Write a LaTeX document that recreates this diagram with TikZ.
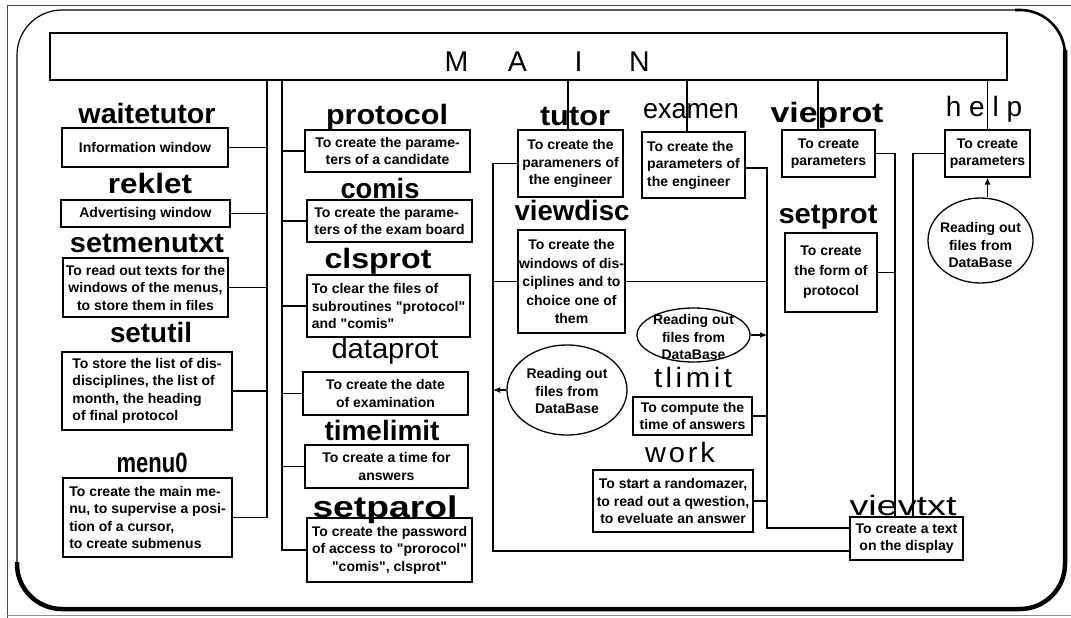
\documentclass[tikz,border=0pt]{standalone}
\usepackage{fontspec}
\setmainfont{Liberation Sans}[Ligatures=TeXOff]
\usepackage{graphicx}
\usetikzlibrary{arrows.meta,shapes.geometric}
\newcommand{\ttl}[2]{\resizebox{#1pt}{\height}{#2}}
\begin{document}
\begin{tikzpicture}[x=1pt,y=-1pt,
  box/.style={draw, line width=1.3pt, inner sep=1pt, align=center,
    font=\fontsize{14}{17.5}\selectfont\bfseries},
  title/.style={anchor=base, inner sep=0pt, font=\fontsize{28}{30}\selectfont\bfseries},
  titlereg/.style={anchor=base, inner sep=0pt, font=\fontsize{28}{30}\selectfont},
  wire/.style={line width=1.1pt},
  arr/.style={line width=1.1pt, -{Latex[length=7pt,width=6pt]}},
  dbell/.style={draw, ellipse, line width=1.3pt, inner sep=0pt},
  dbtxt/.style={inner sep=0pt, align=center, font=\fontsize{14}{17.5}\selectfont\bfseries}
]
\useasboundingbox (0,0) rectangle (1071,618);
% outer thin border
\draw[line width=0.8pt, black!70] (1071,5) -- (7,5) -- (7,618);
\draw[line width=0.6pt, black!45] (7,615.5) -- (1071,615.5);
% rounded frame
\draw[line width=1.2pt, rounded corners=45pt] (17,10) rectangle (1065,609);
\draw[line width=2.6pt, rounded corners=45pt] (1015,10) -- (1065,10) -- (1065,58);
\draw[line width=4.5pt, rounded corners=45pt] (1065,50) -- (1065,609) -- (17,609) -- (17,562);

% MAIN
\node[draw, line width=1.3pt, minimum width=957pt, minimum height=47pt, inner sep=0pt] (main) at (528.5,56.5) {};
\node[anchor=base, inner sep=0pt, font=\fontsize{28.5}{30}\selectfont] (mainlbl) at (548,72)
  {\makebox[61pt]{M}\makebox[61pt]{A}\makebox[61pt]{I}\makebox[61pt]{N}};

% left column
\node[title] (twait) at (147,123) {\ttl{137}{waitetutor}};
\node[box, minimum width=166pt, minimum height=39pt] (wbox) at (145,147.5) {Information window};
\node[title] (trek) at (150,193) {\ttl{84}{reklet}};
\node[box, minimum width=169pt, minimum height=27pt] (rbox) at (145.5,213.5) {Advertising window};
\node[title] (tsmt) at (147,252) {\ttl{154}{setmenutxt}};
\node[box, minimum width=165pt, minimum height=59pt] (smbox) at (145.5,287.5)
  {To read out texts for the\\windows of the menus,\\to store them in files};
\node[title] (tsu) at (151,342) {\ttl{82}{setutil}};
\node[box, minimum width=170pt, minimum height=78pt, align=left] (subox) at (147,391)
  {To store the list of dis-\\disciplines, the list of\\month, the heading\\of final protocol};
\node[title] (tm0) at (152,472) {\ttl{71}{menu0}};
\node[box, minimum width=169pt, minimum height=79pt, align=left] (m0box) at (147.5,517.5)
  {To create the main me-\\nu, to supervise a posi-\\tion of a cursor,\\to create submenus};

% second column
\node[title] (tpro) at (387,124) {\ttl{122}{protocol}};
\node[box, minimum width=165pt, minimum height=42pt] (pbox) at (387.5,151)
  {To create the parame-\\ters of a candidate};
\node[title] (tcom) at (380,198) {\ttl{79}{comis}};
\node[box, minimum width=165pt, minimum height=42pt, align=left] (cbox) at (389.5,221)
  {To create the parame-\\ters of the exam board};
\node[title] (tcls) at (378,268) {\ttl{107}{clsprot}};
\node[box, minimum width=163pt, minimum height=62pt, align=left] (clbox) at (388.5,306)
  {To clear the files of\\subroutines "protocol"\\and "comis"};
\node[titlereg] (tdp) at (385,358) {\ttl{107}{dataprot}};
\node[box, minimum width=165pt, minimum height=43pt] (dpbox) at (385.5,393.5)
  {To create the date\\of examination};
\node[title] (ttl) at (382,440) {\ttl{115}{timelimit}};
\node[box, minimum width=163pt, minimum height=43pt] (tlbox) at (386.5,466.5)
  {To create a time for\\answers};
\node[title, font=\fontsize{30}{32}\selectfont\bfseries] (tsp) at (385,517) {\ttl{145}{setparol}};
\node[box, minimum width=165pt, minimum height=64pt] (spbox) at (389.5,550)
  {To create the password\\of access to "prorocol"\\"comis", clsprot"};

% middle
\node[title] (ttut) at (575,125) {\ttl{70}{tutor}};
\node[box, minimum width=105pt, minimum height=67pt] (tbox) at (570.5,163.5)
  {To create the\\parameners of\\the engineer};
\node[titlereg] (tex) at (691,118) {\ttl{96}{examen}};
\node[box, minimum width=103pt, minimum height=66pt, align=left] (exbox) at (693.5,165)
  {To create the\\parameters of\\the engineer};
\node[title] (tvd) at (572,220) {\ttl{115}{viewdisc}};
\node[box, minimum width=107pt, minimum height=103pt, font=\fontsize{14}{18.5}\selectfont\bfseries] (vdbox) at (571.5,281.5)
  {To create the\\windows of dis-\\ciplines and to\\choice one of\\them};
\node[dbell, minimum width=113pt, minimum height=54pt] (db1) at (693.5,335) {};
\node[dbtxt] (db1t) at (693.5,337) {Reading out\\files from\\DataBase};
\node[dbell, minimum width=120pt, minimum height=90pt] (db2) at (567,390) {};
\node[dbtxt] (db2t) at (567,391) {Reading out\\files from\\DataBase};
\node[titlereg] (ttlim) at (693,387) {\ttl{78}{\addfontfeature{LetterSpace=12}tlimit}};
\node[box, minimum width=119pt, minimum height=38pt] (tmbox) at (692.5,416)
  {To compute the\\time of answers};
\node[titlereg] (twork) at (680,462) {\ttl{70}{\addfontfeature{LetterSpace=10}work}};
\node[box, minimum width=160pt, minimum height=62pt] (wkbox) at (673,501)
  {To start a randomazer,\\to read out a qwestion,\\to eveluate an answer};

% right
\node[title] (tvp) at (827,122) {\ttl{113}{vieprot}};
\node[box, minimum width=93pt, minimum height=47pt] (vpbox) at (828.5,153.5)
  {To create\\parameters};
\node[title] (tsetp) at (828,223) {\ttl{99}{setprot}};
\node[box, minimum width=92pt, minimum height=79pt, font=\fontsize{14}{20}\selectfont\bfseries] (stbox) at (831,272.5)
  {To create\\the form of\\protocol};
\node[titlereg] (thelp) at (984,117) {h e l p};
\node[box, minimum width=85pt, minimum height=47pt] (hbox) at (987.5,153.5)
  {To create\\parameters};
\node[dbell, minimum width=105pt, minimum height=85pt] (db3) at (980.5,240.5) {};
\node[dbtxt] (db3t) at (980.5,245) {Reading out\\files from\\DataBase};
\node[titlereg] (tvt) at (903,515) {\ttl{107}{vievtxt}};
\node[box, minimum width=113pt, minimum height=43pt] (vtbox) at (906.5,538.5)
  {To create a text\\on the display};

% bus coordinates
\coordinate (bL) at (267,0);
\coordinate (bR) at (282,0);
\coordinate (bM1) at (493,0);
\coordinate (bM2) at (767,0);
\coordinate (bV) at (895,0);
\coordinate (bH) at (913,0);

% left bus
\draw[wire] (main.south -| bL) |- (m0box.east);
\foreach \n in {wbox,rbox,smbox,subox} \draw[wire] (\n.east) -- (\n.east -| bL);
% right bus
\draw[wire] (main.south -| bR) |- (spbox.west);
\foreach \n in {pbox,cbox,clbox,dpbox,tlbox} \draw[wire] (\n.west) -- (\n.west -| bR);

% tutor group
\draw[wire] ([xshift=-2.5pt]tbox.north) -- ([xshift=-2.5pt]tbox.north |- main.south);
\draw[wire] (tbox.west) -| ([yshift=-12.5pt]vtbox.west -| bM1) -- ([yshift=-12.5pt]vtbox.west);
\draw[wire] (vdbox.west) -- (vdbox.west -| bM1);
\draw[arr] (db2.west) -- (db2.west -| bM1);

% examen group
\draw[wire] ([xshift=-6.5pt]exbox.north) -- ([xshift=-6.5pt]exbox.north |- main.south);
\draw[wire] ([yshift=-3pt]exbox.east) -| ([yshift=10.5pt]vtbox.west -| bM2) -- ([yshift=10.5pt]vtbox.west);
\draw[wire] (vdbox.east) -- (vdbox.east -| bM2);
\draw[arr] (db1.east) -- (db1.east -| bM2);
\draw[wire] (tmbox.east) -- (tmbox.east -| bM2);
\draw[wire] (wkbox.east) -- (wkbox.east -| bM2);

% vieprot group
\draw[wire] ([xshift=-10.5pt]vpbox.north) -- ([xshift=-10.5pt]vpbox.north |- main.south);
\draw[wire] (vpbox.east) -| (bV |- vtbox.north);
\draw[wire] (stbox.east) -- (stbox.east -| bV);

% help group
\draw[wire] (hbox.north) -- (hbox.north |- main.south);
\draw[wire] (hbox.west) -| (bH |- vtbox.north);
\draw[arr] (db3.north -| hbox.south) -- (hbox.south);
\end{tikzpicture}
\end{document}
